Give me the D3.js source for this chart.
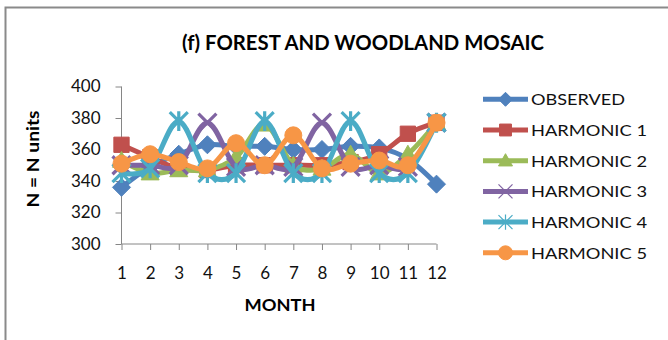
<!DOCTYPE html>
<html>
<head>
<meta charset="utf-8">
<script src="https://cdn.jsdelivr.net/npm/d3@7"></script>
<style>
  body { margin: 0; background: #fff; }
  svg { display: block; }
  text { font-family: Lato, "Open Sans", sans-serif; }
</style>
</head>
<body>
<svg id="chart" width="668" height="340"></svg>
<script>
// Monthly counts for the forest and woodland mosaic class
const months = [1, 2, 3, 4, 5, 6, 7, 8, 9, 10, 11, 12];
const seriesNames = ["OBSERVED", "HARMONIC 1", "HARMONIC 2", "HARMONIC 3", "HARMONIC 4", "HARMONIC 5"];
const observed  = [336, 349, 357, 363, 362, 362, 360, 360, 362, 361, 354, 338];
const harmonic1 = [363, 355, 348, 347, 350, 350, 350, 350, 352, 357, 370, 377];
const harmonic2 = [353, 345, 347, 347, 355, 376, 350, 348, 357, 345, 357, 377];
const harmonic3 = [350, 350, 350, 377, 349, 350, 349, 377, 349, 350, 349, 377];
const harmonic4 = [345, 348, 378, 345, 345, 378, 345, 345, 378, 345, 345, 377];
const harmonic5 = [351, 357, 352, 348, 364, 350, 369, 348, 351, 353, 350, 377];
const yTicks = [300, 320, 340, 360, 380, 400];

const seriesValues = [observed, harmonic1, harmonic2, harmonic3, harmonic4, harmonic5];
const colors  = ["#4F81BD", "#C0504D", "#9BBB59", "#8064A2", "#4BACC6", "#F79646"];
const markers = ["diamond", "square", "triangle", "cross", "star", "circle"];

const svg = d3.select("#chart");

// outer chart frame
svg.append("rect")
  .attr("x", 5.5).attr("y", 7.5)
  .attr("width", 720).attr("height", 400)
  .attr("fill", "none").attr("stroke", "#8a8a8a").attr("stroke-width", 2);

const x = d3.scalePoint().domain(months).range([121.5, 436.5]).padding(0);
const y = d3.scaleLinear().domain([300, 400]).range([244, 86.5]);

// axes
const axisColor = "#868686";
const yAxis = svg.append("g")
  .attr("transform", "translate(121.5,0)")
  .call(d3.axisLeft(y).tickValues(yTicks).tickSize(6).tickPadding(15).tickSizeOuter(0));
const xAxis = svg.append("g")
  .attr("transform", "translate(0,244)")
  .call(d3.axisBottom(x).tickSize(6).tickPadding(17).tickSizeOuter(0));

[yAxis, xAxis].forEach(g => {
  g.select(".domain").attr("stroke", axisColor).attr("stroke-width", 1);
  g.selectAll(".tick line").attr("stroke", axisColor).attr("stroke-width", 1);
  g.selectAll(".tick text")
    .attr("fill", "#111")
    .style("font-family", "Lato, 'Open Sans', sans-serif")
    .style("font-size", "17px");
});
// domain lines span the whole value range
yAxis.select(".domain").attr("d", `M0,${y(300)}V${y(400)}`);
xAxis.select(".domain").attr("d", `M${x(1)},0H${x(12)}`);

// marker shapes
function markerPath(type, r) {
  switch (type) {
    case "diamond":  return `M0,${-r}L${r},0L0,${r}L${-r},0Z`;
    case "square":   return `M${-r*0.85},${-r*0.85}H${r*0.85}V${r*0.85}H${-r*0.85}Z`;
    case "triangle": return `M0,${-r}L${r},${r*0.75}L${-r},${r*0.75}Z`;
    case "cross":    return `M${-r},${-r}L${r},${r}M${r},${-r}L${-r},${r}`;
    case "star":     return `M${-r},${-r}L${r},${r}M${r},${-r}L${-r},${r}M0,${-r*1.1}V${r*1.1}`;
    default:         return d3.symbol(d3.symbolCircle, Math.PI * r * r)();
  }
}
const strokeMarker = t => t === "cross" || t === "star";

function drawMarker(g, type, color, r, sw) {
  const p = g.append("path").attr("d", markerPath(type, r));
  if (strokeMarker(type)) {
    p.attr("fill", "none").attr("stroke", color).attr("stroke-width", sw).attr("stroke-linecap", "butt");
  } else {
    p.attr("fill", color).attr("stroke", color).attr("stroke-width", 1);
  }
}

// smoothed series lines
const line = d3.line()
  .x((d, i) => x(months[i]))
  .y(d => y(d))
  .curve(d3.curveCardinal.tension(0));

// series: line and markers drawn together, later series on top
seriesValues.forEach((vals, si) => {
  const g = svg.append("g");
  g.append("path")
    .datum(vals)
    .attr("d", line)
    .attr("fill", "none")
    .attr("stroke", colors[si])
    .attr("stroke-width", 5)
    .attr("stroke-linejoin", "round");
  vals.forEach((v, i) => {
    const mg = g.append("g").attr("transform", `translate(${x(months[i])},${y(v)})`);
    drawMarker(mg, markers[si], colors[si], si === 5 ? 8.5 : 9, 3.2);
  });
});

// title
svg.append("text")
  .attr("x", 182).attr("y", 50)
  .attr("textLength", 362).attr("lengthAdjust", "spacingAndGlyphs")
  .style("font-size", "21px").style("font-weight", "bold")
  .attr("fill", "#000")
  .text("(f) FOREST AND WOODLAND MOSAIC");

// axis titles
svg.append("text")
  .attr("transform", "translate(39,159) rotate(-90)")
  .attr("text-anchor", "middle")
  .attr("textLength", 97).attr("lengthAdjust", "spacingAndGlyphs")
  .style("font-size", "17px").style("font-weight", "bold")
  .attr("fill", "#000")
  .text("N = N units");

svg.append("text")
  .attr("x", 280).attr("y", 311)
  .attr("text-anchor", "middle")
  .attr("textLength", 71).attr("lengthAdjust", "spacingAndGlyphs")
  .style("font-size", "17px").style("font-weight", "bold")
  .attr("fill", "#000")
  .text("MONTH");

// legend
const legend = svg.append("g");
seriesNames.forEach((name, si) => {
  const cy = 99.3 + si * 30.7;
  const g = legend.append("g");
  g.append("line")
    .attr("x1", 483).attr("x2", 528).attr("y1", cy).attr("y2", cy)
    .attr("stroke", colors[si]).attr("stroke-width", 5);
  const mg = g.append("g").attr("transform", `translate(505.5,${cy})`);
  drawMarker(mg, markers[si], colors[si], 7, 1.2);
  g.append("text")
    .attr("x", 531).attr("y", cy + 6)
    .attr("textLength", si === 0 ? 94 : 116).attr("lengthAdjust", "spacingAndGlyphs")
    .style("font-size", "16px")
    .attr("fill", "#111")
    .text(name);
});
</script>
</body>
</html>
